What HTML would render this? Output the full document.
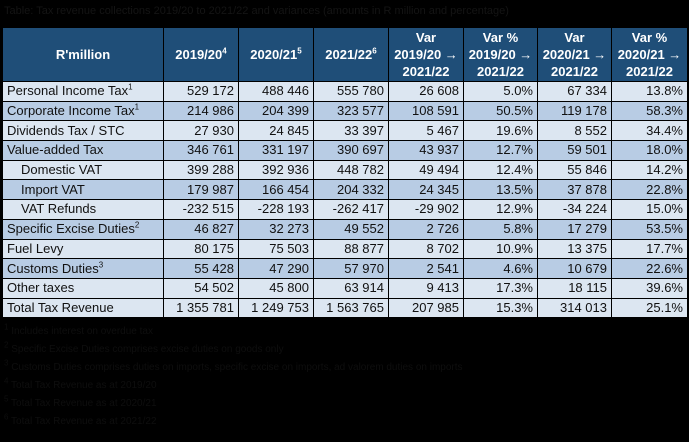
<!DOCTYPE html>
<html><head><meta charset="utf-8"><style>
body{margin:0;background:#000;width:689px;height:442px;overflow:hidden;font-family:"Liberation Sans",sans-serif;}
.t{position:absolute;left:4px;top:5px;font-size:11px;color:#141414;white-space:nowrap}
table{position:absolute;left:2px;top:27px;border-collapse:collapse;table-layout:fixed;font-size:13px}
td,th{border:1px solid #000;padding:0 4px;height:18.7px;line-height:18px;text-align:right;white-space:nowrap;color:#111}
th{background:#1f4e78;color:#fff;font-weight:bold;text-align:center;height:53px;line-height:17px;padding:0 2px}
td:first-child{text-align:left}
tr.a td{background:#dce6f1}
tr.b td{background:#b8cce4}
.i{padding-left:18px}
sup{font-size:8px;line-height:0}
.f{position:absolute;left:4px;font-size:10px;color:#0e0e0e;white-space:nowrap}
</style></head><body>
<div class="t">Table: Tax revenue collections 2019/20 to 2021/22 and variances (amounts in R million and percentage)</div>
<table>
<colgroup><col style="width:161px"><col style="width:75px"><col style="width:75px"><col style="width:75px"><col style="width:75px"><col style="width:74px"><col style="width:74px"><col style="width:76px"></colgroup>
<tr><th>R'million</th><th>2019/20<sup>4</sup></th><th>2020/21<sup>5</sup></th><th>2021/22<sup>6</sup></th><th>Var<br>2019/20 <b>→</b><br>2021/22</th><th>Var %<br>2019/20 <b>→</b><br>2021/22</th><th>Var<br>2020/21 <b>→</b><br>2021/22</th><th>Var %<br>2020/21 <b>→</b><br>2021/22</th></tr>
<tr class="a"><td>Personal Income Tax<sup>1</sup></td><td>529 172</td><td>488 446</td><td>555 780</td><td>26 608</td><td>5.0%</td><td>67 334</td><td>13.8%</td></tr>
<tr class="b"><td>Corporate Income Tax<sup>1</sup></td><td>214 986</td><td>204 399</td><td>323 577</td><td>108 591</td><td>50.5%</td><td>119 178</td><td>58.3%</td></tr>
<tr class="a"><td>Dividends Tax / STC</td><td>27 930</td><td>24 845</td><td>33 397</td><td>5 467</td><td>19.6%</td><td>8 552</td><td>34.4%</td></tr>
<tr class="b"><td>Value-added Tax</td><td>346 761</td><td>331 197</td><td>390 697</td><td>43 937</td><td>12.7%</td><td>59 501</td><td>18.0%</td></tr>
<tr class="a"><td class="i">Domestic VAT</td><td>399 288</td><td>392 936</td><td>448 782</td><td>49 494</td><td>12.4%</td><td>55 846</td><td>14.2%</td></tr>
<tr class="b"><td class="i">Import VAT</td><td>179 987</td><td>166 454</td><td>204 332</td><td>24 345</td><td>13.5%</td><td>37 878</td><td>22.8%</td></tr>
<tr class="a"><td class="i">VAT Refunds</td><td>-232 515</td><td>-228 193</td><td>-262 417</td><td>-29 902</td><td>12.9%</td><td>-34 224</td><td>15.0%</td></tr>
<tr class="b"><td>Specific Excise Duties<sup>2</sup></td><td>46 827</td><td>32 273</td><td>49 552</td><td>2 726</td><td>5.8%</td><td>17 279</td><td>53.5%</td></tr>
<tr class="a"><td>Fuel Levy</td><td>80 175</td><td>75 503</td><td>88 877</td><td>8 702</td><td>10.9%</td><td>13 375</td><td>17.7%</td></tr>
<tr class="b"><td>Customs Duties<sup>3</sup></td><td>55 428</td><td>47 290</td><td>57 970</td><td>2 541</td><td>4.6%</td><td>10 679</td><td>22.6%</td></tr>
<tr class="a"><td>Other taxes</td><td>54 502</td><td>45 800</td><td>63 914</td><td>9 413</td><td>17.3%</td><td>18 115</td><td>39.6%</td></tr>
<tr class="a"><td>Total Tax Revenue</td><td>1 355 781</td><td>1 249 753</td><td>1 563 765</td><td>207 985</td><td>15.3%</td><td>314 013</td><td>25.1%</td></tr>
</table>
<div class="f" style="top:326px"><sup>1</sup> Includes interest on overdue tax</div>
<div class="f" style="top:344px"><sup>2</sup> Specific Excise Duties comprises excise duties on goods only</div>
<div class="f" style="top:362px"><sup>3</sup> Customs Duties comprises duties on imports, specific excise on imports, ad valorem duties on imports</div>
<div class="f" style="top:380px"><sup>4</sup> Total Tax Revenue as at 2019/20</div>
<div class="f" style="top:398px"><sup>5</sup> Total Tax Revenue as at 2020/21</div>
<div class="f" style="top:416px"><sup>6</sup> Total Tax Revenue as at 2021/22</div>
</body></html>
